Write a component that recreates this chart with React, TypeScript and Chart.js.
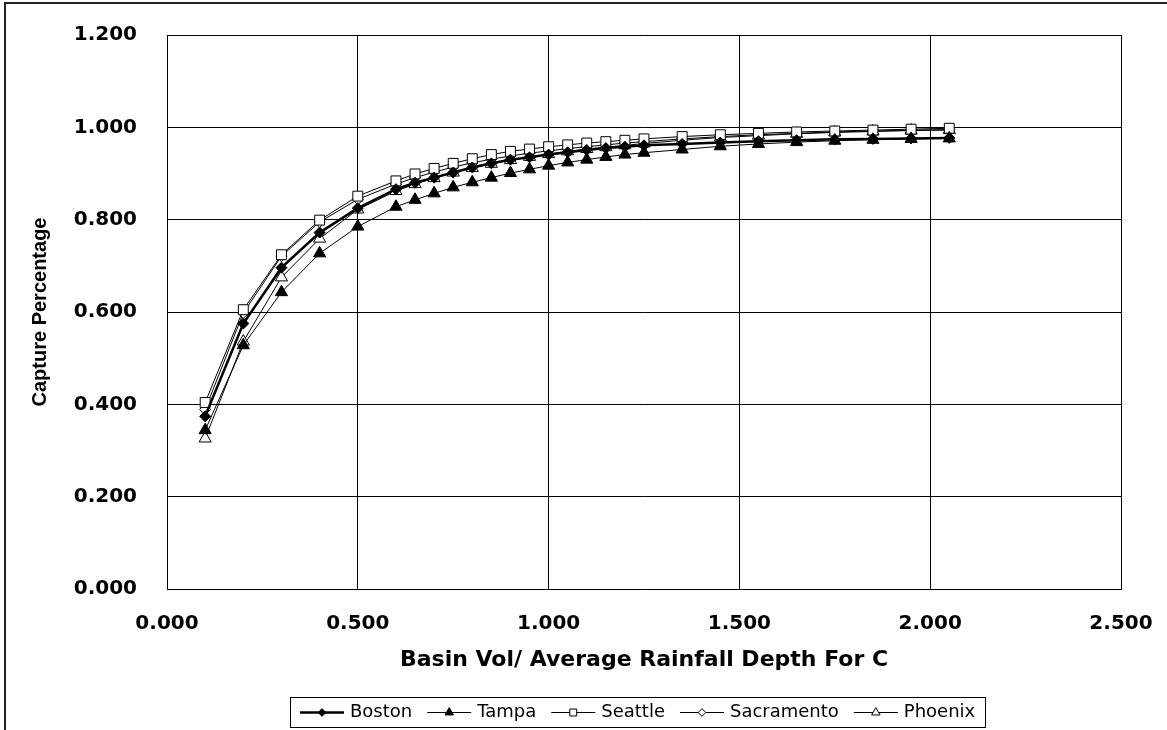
import React, { useEffect, useRef } from "react";
import { Chart, registerables } from "chart.js";

Chart.register(...registerables);

const xValues = [0.1, 0.2, 0.3, 0.4, 0.5, 0.6, 0.65, 0.7, 0.75, 0.8, 0.85, 0.9, 0.95, 1.0, 1.05, 1.1, 1.15, 1.2, 1.25, 1.35, 1.45, 1.55, 1.65, 1.75, 1.85, 1.95, 2.05];

const boston = [0.374, 0.575, 0.696, 0.772, 0.825, 0.866, 0.880, 0.891, 0.902, 0.913, 0.922, 0.930, 0.935, 0.941, 0.946, 0.951, 0.955, 0.958, 0.961, 0.964, 0.967, 0.970, 0.972, 0.974, 0.975, 0.976, 0.977];
const tampa = [0.344, 0.528, 0.643, 0.727, 0.785, 0.828, 0.843, 0.857, 0.870, 0.881, 0.891, 0.901, 0.909, 0.917, 0.924, 0.930, 0.936, 0.941, 0.945, 0.952, 0.959, 0.964, 0.968, 0.971, 0.973, 0.975, 0.976];
const seattle = [0.404, 0.605, 0.724, 0.799, 0.851, 0.884, 0.899, 0.911, 0.922, 0.932, 0.941, 0.948, 0.953, 0.958, 0.962, 0.966, 0.969, 0.972, 0.975, 0.980, 0.984, 0.987, 0.990, 0.992, 0.994, 0.996, 0.998];
const sacramento = [0.389, 0.598, 0.721, 0.795, 0.844, 0.877, 0.891, 0.903, 0.914, 0.923, 0.931, 0.938, 0.944, 0.949, 0.954, 0.958, 0.962, 0.966, 0.969, 0.975, 0.980, 0.984, 0.987, 0.990, 0.992, 0.994, 0.995];
const phoenix = [0.326, 0.536, 0.675, 0.759, 0.822, 0.862, 0.877, 0.890, 0.902, 0.912, 0.921, 0.929, 0.936, 0.942, 0.948, 0.953, 0.957, 0.961, 0.965, 0.972, 0.978, 0.982, 0.986, 0.989, 0.991, 0.993, 0.994];

const seriesNames = ["Boston", "Tampa", "Seattle", "Sacramento", "Phoenix"];
const xTitle = "Basin Vol/ Average Rainfall Depth For C";
const yTitle = "Capture Percentage";

function toPoints(ys: number[]) {
  return xValues.map((x, i) => ({ x, y: ys[i] }));
}

function drawMarker(ctx: CanvasRenderingContext2D, style: string, x: number, y: number, r: number, fill: string) {
  ctx.beginPath();
  if (style === "rectRot") {
    ctx.moveTo(x - r, y);
    ctx.lineTo(x, y - r);
    ctx.lineTo(x + r, y);
    ctx.lineTo(x, y + r);
    ctx.closePath();
  } else if (style === "rect") {
    const s = r * Math.SQRT1_2;
    ctx.rect(x - s, y - s, 2 * s, 2 * s);
  } else if (style === "triangle") {
    const h = r * 1.5;
    const half = (r * Math.sqrt(3)) / 2;
    ctx.moveTo(x, y - r);
    ctx.lineTo(x + half, y - r + h);
    ctx.lineTo(x - half, y - r + h);
    ctx.closePath();
  }
  ctx.fillStyle = fill;
  ctx.fill();
  ctx.lineWidth = 1;
  ctx.strokeStyle = "#000";
  ctx.stroke();
}

const frameAndLegend = {
  id: "frameAndLegend",
  afterDraw(chart: any) {
    const ctx: CanvasRenderingContext2D = chart.ctx;
    ctx.save();
    // outer chart frame
    ctx.strokeStyle = "#222";
    ctx.lineWidth = 2;
    ctx.strokeRect(5, 3, 1400, 1000);

    // legend
    ctx.font = '18px "DejaVu Sans"';
    const lineLen = 44, gap = 6, spacing = 15, padX = 10;
    const dss = chart.data.datasets;
    const widths = dss.map((d: any) => ctx.measureText(d.label).width);
    let total = 2 * padX + spacing * (dss.length - 1);
    widths.forEach((w: number) => (total += lineLen + gap + w));
    const cx = 638;
    const left = Math.round(cx - total / 2);
    const top = 697, h = 30;
    ctx.fillStyle = "#fff";
    ctx.fillRect(left, top, Math.round(total), h);
    ctx.strokeStyle = "#000";
    ctx.lineWidth = 1;
    ctx.strokeRect(left + 0.5, top + 0.5, Math.round(total), h);
    const cy = top + h / 2 + 0.5;
    let px = left + padX;
    dss.forEach((d: any, i: number) => {
      ctx.beginPath();
      ctx.strokeStyle = "#000";
      ctx.lineWidth = d.borderWidth;
      ctx.moveTo(px, cy);
      ctx.lineTo(px + lineLen, cy);
      ctx.stroke();
      drawMarker(ctx, d.pointStyle, px + lineLen / 2, cy, d.pointRadius * 0.7, d.pointBackgroundColor);
      ctx.fillStyle = "#000";
      ctx.textAlign = "left";
      ctx.textBaseline = "middle";
      ctx.fillText(d.label, px + lineLen + gap, cy);
      px += lineLen + gap + widths[i] + spacing;
    });
    ctx.restore();
  },
};

function zeroPad(s: any) {
  s.paddingTop = 0;
  s.paddingBottom = 0;
  s.paddingLeft = 0;
  s.paddingRight = 0;
}

export default function App() {
  const ref = useRef<HTMLCanvasElement | null>(null);
  useEffect(() => {
    document.body.style.margin = "0";
    const canvas = ref.current!;
    const mk = (label: string, data: number[], style: string, fill: string, bw: number, r: number) => ({
      label,
      data: toPoints(data),
      borderColor: "#000",
      borderWidth: bw,
      pointStyle: style,
      pointRadius: r,
      pointBackgroundColor: fill,
      pointBorderColor: "#000",
      pointBorderWidth: 1,
      backgroundColor: fill,
      showLine: true,
      tension: 0,
    });
    const chart = new Chart(canvas, {
      type: "scatter",
      data: {
        datasets: [
          mk(seriesNames[0], boston, "rectRot", "#000", 2.5, 5.5),
          mk(seriesNames[1], tampa, "triangle", "#000", 1, 7),
          mk(seriesNames[2], seattle, "rect", "#fff", 1, 7),
          mk(seriesNames[3], sacramento, "rectRot", "#fff", 1, 5.5),
          mk(seriesNames[4], phoenix, "triangle", "#fff", 1, 7),
        ] as any,
      },
      options: {
        animation: false,
        responsive: false,
        devicePixelRatio: 1,
        layout: { padding: { top: 35, right: 46, bottom: 0, left: 0 } },
        plugins: { legend: { display: false }, tooltip: { enabled: false } },
        scales: {
          x: {
            type: "linear",
            min: 0,
            max: 2.5,
            afterFit: (s: any) => { s.height = 141; zeroPad(s); },
            ticks: {
              stepSize: 0.5,
              padding: 23,
              color: "#000",
              font: { family: "DejaVu Sans", size: 20, weight: "bold" },
              callback: (v: any) => Number(v).toFixed(3),
            },
            grid: { color: "#000", lineWidth: 1, drawTicks: false },
            border: { color: "#000", width: 1 },
            title: {
              display: true,
              text: xTitle,
              color: "#000",
              font: { family: "DejaVu Sans", size: 22, weight: "bold" },
              padding: { top: 0, bottom: 57 },
            },
          },
          y: {
            type: "linear",
            min: 0,
            max: 1.2,
            afterFit: (s: any) => { s.width = 167; zeroPad(s); },
            ticks: {
              stepSize: 0.2,
              padding: 30,
              color: "#000",
              font: { family: "DejaVu Sans", size: 20, weight: "bold" },
              callback: (v: any) => Number(v).toFixed(3),
            },
            grid: { color: "#000", lineWidth: 1, drawTicks: false },
            border: { color: "#000", width: 1 },
            title: {
              display: true,
              text: yTitle,
              color: "#000",
              font: { family: "Liberation Sans", size: 20, weight: "bold" },
              padding: { top: 28, bottom: 0 },
            },
          },
        },
      } as any,
      plugins: [frameAndLegend],
    });
    return () => chart.destroy();
  }, []);
  return <canvas ref={ref} width={1167} height={730} style={{ display: "block", width: 1167, height: 730 }} />;
}
